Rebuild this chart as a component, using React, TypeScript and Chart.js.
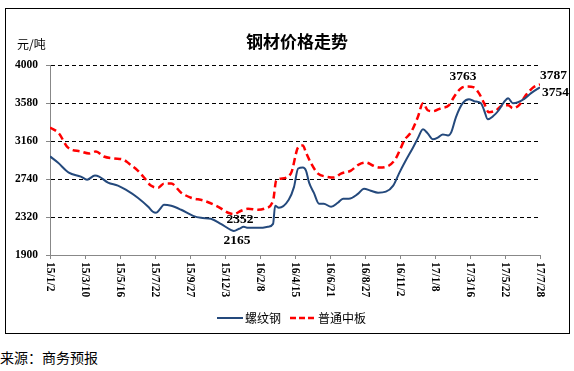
import React, { useEffect, useRef } from "react";
import { Chart, registerables } from "chart.js";

Chart.register(...registerables);

const chartTitle = "钢材价格走势";
const unitLabel = "元/吨";
const sourceText = "来源：商务预报";
const seriesNames = ["螺纹钢", "普通中板"];

const xTickLabels = [
  "15/1/2", "15/3/10", "15/5/16", "15/7/22", "15/9/27", "15/12/3", "16/2/8", "16/4/15",
  "16/6/21", "16/8/27", "16/11/2", "17/1/8", "17/3/16", "17/5/22", "17/7/28",
];
const totalDays = 938;
const tickStepDays = 67;
const yMin = 1900;
const yMax = 4000;
const yStep = 420;

// days since 2015-01-02
const rebarDays = [0, 15, 36, 59, 71, 86, 94, 111, 130, 145, 168, 188, 197, 203, 211, 218, 232, 251, 274, 289, 308, 327, 346, 352, 362, 371, 379, 404, 417, 427, 431, 438, 457, 467, 475, 484, 490, 496, 505, 515, 524, 538, 551, 561, 572, 590, 601, 614, 628, 643, 657, 668, 681, 695, 704, 714, 723, 733, 743, 752, 762, 768, 777, 790, 802, 812, 825, 831, 838, 848, 859, 869, 877, 886, 896, 907, 921, 938];
const rebarValues = [2990, 2922, 2811, 2767, 2733, 2778, 2767, 2700, 2667, 2622, 2533, 2433, 2378, 2367, 2411, 2456, 2444, 2400, 2333, 2311, 2300, 2244, 2178, 2165, 2190, 2211, 2200, 2200, 2211, 2244, 2444, 2422, 2511, 2650, 2856, 2867, 2833, 2700, 2589, 2467, 2467, 2433, 2478, 2522, 2522, 2578, 2633, 2611, 2589, 2600, 2667, 2800, 2944, 3089, 3189, 3289, 3244, 3178, 3200, 3233, 3222, 3256, 3422, 3578, 3622, 3600, 3578, 3500, 3400, 3433, 3500, 3589, 3633, 3578, 3589, 3622, 3689, 3754];

const plateDays = [0, 17, 34, 59, 75, 88, 103, 123, 140, 151, 168, 180, 193, 207, 218, 232, 251, 270, 295, 322, 341, 352, 366, 379, 398, 410, 427, 433, 442, 461, 475, 484, 490, 500, 513, 528, 544, 557, 576, 591, 605, 618, 630, 649, 662, 672, 678, 691, 704, 714, 723, 733, 748, 764, 773, 787, 800, 810, 821, 831, 840, 854, 867, 877, 886, 898, 911, 926, 938];
const plateValues = [3310, 3244, 3089, 3044, 3022, 3044, 2989, 2967, 2956, 2911, 2833, 2756, 2667, 2644, 2689, 2689, 2589, 2533, 2500, 2433, 2367, 2352, 2389, 2411, 2400, 2411, 2500, 2722, 2744, 2800, 3089, 3111, 3033, 2911, 2800, 2767, 2756, 2800, 2833, 2900, 2922, 2889, 2867, 2889, 2967, 3089, 3167, 3256, 3422, 3578, 3500, 3489, 3522, 3556, 3644, 3744, 3763, 3756, 3689, 3578, 3478, 3500, 3556, 3556, 3522, 3556, 3667, 3756, 3787];

// index of the annotated 17/3 peak of the plate series
const platePeakIndex = 56;

const BLUE = "#24497C";
const RED = "#FF0000";
const SERIF = "'Liberation Serif', 'Times New Roman', serif";
const CJK = "'Noto Sans CJK SC', sans-serif";

const toPoints = (days: number[], vals: number[]) => days.map((d, i) => ({ x: d, y: vals[i] }));

const decorPlugin = {
  id: "decor",
  afterDraw(chart: any) {
    const ctx = chart.ctx as CanvasRenderingContext2D;
    const xs = chart.scales.x;
    const ys = chart.scales.y;
    ctx.save();
    // title
    ctx.fillStyle = "#000";
    ctx.font = `bold 17px ${CJK}`;
    ctx.textAlign = "center";
    ctx.textBaseline = "middle";
    ctx.fillText(chartTitle, 297, 42);
    // unit
    ctx.font = `12px ${CJK}`;
    ctx.textAlign = "left";
    ctx.fillText(unitLabel, 17, 44);
    // x tick labels, rotated clockwise
    ctx.font = `bold 11.5px ${SERIF}`;
    xs.ticks.forEach((t: any, i: number) => {
      const px = xs.getPixelForValue(t.value);
      ctx.save();
      ctx.translate(px, xs.top + 7);
      ctx.rotate(Math.PI / 2);
      ctx.textAlign = "left";
      ctx.textBaseline = "middle";
      ctx.fillText(xTickLabels[i] ?? "", 0, 0);
      ctx.restore();
    });
    // value annotations
    ctx.font = `bold 13.5px ${SERIF}`;
    ctx.textBaseline = "middle";
    const pMaxIdx = platePeakIndex;
    const pMinIdx = plateValues.indexOf(Math.min(...plateValues));
    const rMinIdx = rebarValues.indexOf(Math.min(...rebarValues));
    const pLast = plateValues.length - 1;
    const rLast = rebarValues.length - 1;
    ctx.textAlign = "center";
    ctx.fillText(String(plateValues[pMaxIdx]), xs.getPixelForValue(plateDays[pMaxIdx]) - 5, ys.getPixelForValue(plateValues[pMaxIdx]) - 10);
    ctx.fillText(String(plateValues[pMinIdx]), xs.getPixelForValue(plateDays[pMinIdx]) + 6, ys.getPixelForValue(plateValues[pMinIdx]) + 5);
    ctx.fillText(String(rebarValues[rMinIdx]), xs.getPixelForValue(rebarDays[rMinIdx]) + 3, ys.getPixelForValue(rebarValues[rMinIdx]) + 9);
    ctx.textAlign = "left";
    ctx.fillText(String(plateValues[pLast]), xs.getPixelForValue(plateDays[pLast]) + 0, ys.getPixelForValue(plateValues[pLast]) - 9);
    ctx.fillText(String(rebarValues[rLast]), xs.getPixelForValue(rebarDays[rLast]) + 2, ys.getPixelForValue(rebarValues[rLast]) + 5);
    // legend
    const ly = 318;
    ctx.lineWidth = 2;
    ctx.strokeStyle = BLUE;
    ctx.setLineDash([]);
    ctx.beginPath();
    ctx.moveTo(217, ly);
    ctx.lineTo(243, ly);
    ctx.stroke();
    ctx.strokeStyle = RED;
    ctx.lineWidth = 2.5;
    ctx.setLineDash([6, 3]);
    ctx.beginPath();
    ctx.moveTo(290, ly);
    ctx.lineTo(315, ly);
    ctx.stroke();
    ctx.setLineDash([]);
    ctx.fillStyle = "#000";
    ctx.font = `12px ${CJK}`;
    ctx.textAlign = "left";
    ctx.fillText(seriesNames[0], 245, ly);
    ctx.fillText(seriesNames[1], 318, ly);
    ctx.restore();
  },
};

export default function App() {
  const ref = useRef<HTMLCanvasElement | null>(null);
  useEffect(() => {
    if (!ref.current) return;
    const chart = new Chart(ref.current, {
      type: "line",
      data: {
        datasets: [
          {
            label: seriesNames[0],
            data: toPoints(rebarDays, rebarValues),
            borderColor: BLUE,
            backgroundColor: BLUE,
            borderWidth: 2,
            pointRadius: 0,
            cubicInterpolationMode: "monotone",
            fill: false,
          },
          {
            label: seriesNames[1],
            data: toPoints(plateDays, plateValues),
            borderColor: RED,
            backgroundColor: RED,
            borderWidth: 2.5,
            borderDash: [7, 4],
            pointRadius: 0,
            cubicInterpolationMode: "monotone",
            fill: false,
          },
        ],
      },
      options: {
        animation: false,
        responsive: false,
        maintainAspectRatio: false,
        layout: { padding: { top: 65, right: 34, left: 0, bottom: 75 } },
        plugins: { legend: { display: false }, title: { display: false }, tooltip: { enabled: false } },
        scales: {
          x: {
            type: "linear",
            min: 0,
            max: totalDays,
            ticks: { stepSize: tickStepDays, display: false },
            grid: { drawOnChartArea: false, drawTicks: true, tickLength: 4, tickColor: "#888", color: "#888" },
            border: { display: true, color: "#888", width: 1 },
            afterFit: (s: any) => { s.height = 10; },
          },
          y: {
            min: yMin,
            max: yMax,
            ticks: {
              stepSize: yStep,
              color: "#000",
              padding: 8,
              font: { family: SERIF, size: 11.5, weight: "bold" },
              callback: (v: any) => String(v),
            },
            grid: {
              color: (c: any) => (c.tick && c.tick.value === yMin ? "rgba(0,0,0,0)" : "#000"),
              tickColor: "#888",
              tickLength: 4,
              lineWidth: 1,
            },
            border: { display: true, color: "#888", width: 1, dash: [4, 3] },
            afterFit: (s: any) => { s.width = 50; },
          },
        },
      } as any,
      plugins: [decorPlugin],
    });
    return () => chart.destroy();
  }, []);

  return (
    <div style={{ position: "absolute", left: 0, top: 0, width: 574, height: 371, background: "#fff" }}>
      <div style={{ position: "absolute", left: 5, top: 8, width: 563, height: 324, border: "1px solid #000" }} />
      <canvas ref={ref} width={574} height={340} style={{ position: "absolute", left: 0, top: 0, width: 574, height: 340 }} />
      <div style={{ position: "absolute", left: 0, top: 349, fontFamily: CJK, fontSize: 14, lineHeight: "16px", color: "#000" }}>
        {sourceText}
      </div>
    </div>
  );
}
